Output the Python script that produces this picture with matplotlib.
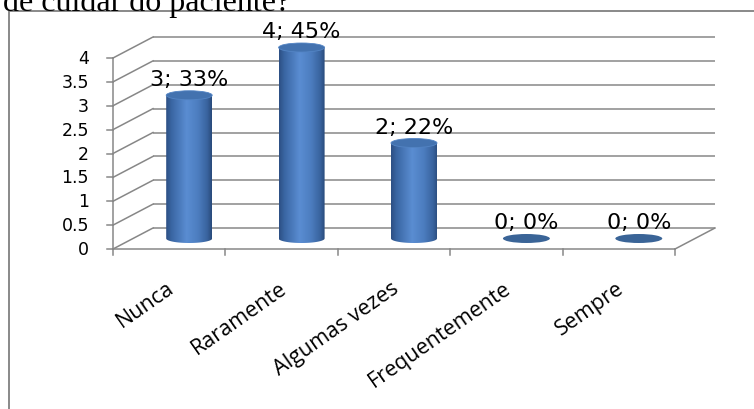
import numpy as np
import matplotlib
matplotlib.use("Agg")
import matplotlib.pyplot as plt
from matplotlib.patches import Ellipse, PathPatch
from matplotlib.path import Path
from matplotlib.lines import Line2D
from matplotlib.colors import LinearSegmentedColormap

# ---- data ----
categories = ["Nunca", "Raramente", "Algumas vezes", "Frequentemente", "Sempre"]
counts = [3, 4, 2, 0, 0]
percents = [33, 45, 22, 0, 0]
y_ticks = [0, 0.5, 1, 1.5, 2, 2.5, 3, 3.5, 4]
y_tick_labels = ["0", "0.5", "1", "1.5", "2", "2.5", "3", "3.5", "4"]
title_text = "de cuidar do paciente?"

W, H = 754, 410
fig = plt.figure(figsize=(W / 100, H / 100), dpi=100)
ax = fig.add_axes([0, 0, 1, 1])
ax.axis("off")

# front plane placement (pixels, origin bottom-left)
px_x0, px_x1 = 113, 675
px_y0, px_y1 = 160, 351
n = len(categories)
sx = (px_x1 - px_x0) / n          # px per category
sy = (px_y1 - px_y0) / 4.0        # px per value unit
xmin = -0.5 - px_x0 / sx
xmax = xmin + W / sx
ymin = -px_y0 / sy
ymax = ymin + H / sy
ax.set_xlim(xmin, xmax)
ax.set_ylim(ymin, ymax)

# depth offset in data units
DX = 40 / sx
DY = 21 / sy
grid_c = "#878787"
lw_g = 1.1

x_left, x_right = -0.5, n - 0.5
# back wall gridlines + left wall diagonals
for v, lab in zip(y_ticks, y_tick_labels):
    ax.plot([x_left + DX, x_right + DX], [v + DY, v + DY], color=grid_c, lw=lw_g, solid_capstyle="butt")
    ax.plot([x_left, x_left + DX], [v, v + DY], color=grid_c, lw=lw_g)
    ax.plot([x_left - 6 / sx, x_left], [v, v], color=grid_c, lw=lw_g)
    ax.text(x_left - 24 / sx, v, lab, ha="right", va="center",
            fontsize=12.5, family="DejaVu Sans", color="#000000")

# front axes
ax.plot([x_left, x_left], [0, 4], color=grid_c, lw=lw_g)
ax.plot([x_left, x_right], [0, 0], color=grid_c, lw=lw_g)
ax.plot([x_right, x_right + DX], [0, DY], color=grid_c, lw=lw_g)
for i in range(n + 1):
    ax.plot([i - 0.5, i - 0.5], [0, -6 / sy], color=grid_c, lw=lw_g)

# cylinders
cmap = LinearSegmentedColormap.from_list("cyl", [
    (0.0, "#2C4F83"), (0.12, "#3A66A3"), (0.45, "#5A8DD2"),
    (0.7, "#4C7DBF"), (0.9, "#39639E"), (1.0, "#294A7A")])
grad = np.tile(np.linspace(0, 1, 256), (2, 1))
w = 46 / sx
eh = 9 / sy
for i, (v, p) in enumerate(zip(counts, percents)):
    cx = i + DX / 2
    base = DY / 2
    top = v + DY / 2
    x0, x1 = cx - w / 2, cx + w / 2
    if v > 0:
        th = np.linspace(np.pi, 2 * np.pi, 60)
        verts = [(x0, top)] + [(cx + w / 2 * np.cos(t), base + eh / 2 * np.sin(t)) for t in th] + [(x1, top), (x0, top)]
        codes = [Path.MOVETO] + [Path.LINETO] * (len(verts) - 2) + [Path.CLOSEPOLY]
        clip = PathPatch(Path(verts, codes), facecolor="none", edgecolor="none", transform=ax.transData)
        ax.add_patch(clip)
        im = ax.imshow(grad, extent=[x0, x1, base - eh / 2, top], aspect="auto", cmap=cmap,
                       interpolation="bilinear", zorder=3)
        im.set_clip_path(clip)
        ax.add_patch(Ellipse((cx, top), w, eh, facecolor="#4372AF", edgecolor="#5384C4", lw=0.6, zorder=4))
    else:
        ax.add_patch(Ellipse((cx, base), w * 1.02, eh, facecolor="#3A6497", edgecolor="none", zorder=4))
    ax.text(cx, top + 10 / sy, f"{v}; {p}%", ha="center", va="baseline", fontsize=16,
            family="DejaVu Sans", color="#000000", zorder=5)

# category labels
for i, c in enumerate(categories):
    ax.text(i - 3 / sx, -28 / sy, c, rotation=35, rotation_mode="anchor", ha="right", va="top",
            fontsize=15.5, family="Open Sans", color="#000000")

ax.set_xlim(xmin, xmax)
ax.set_ylim(ymin, ymax)

# border box and title
fig.add_artist(Line2D([9 / W, 9 / W, 1], [0, 1 - 12 / H, 1 - 12 / H], transform=fig.transFigure,
                      color="#808080", lw=1.3))
fig.text(3 / W, 1 - 11 / H, title_text, ha="left", va="baseline", fontsize=23,
         family="Liberation Serif", color="#000000")

fig.savefig("out.png", dpi=100)
